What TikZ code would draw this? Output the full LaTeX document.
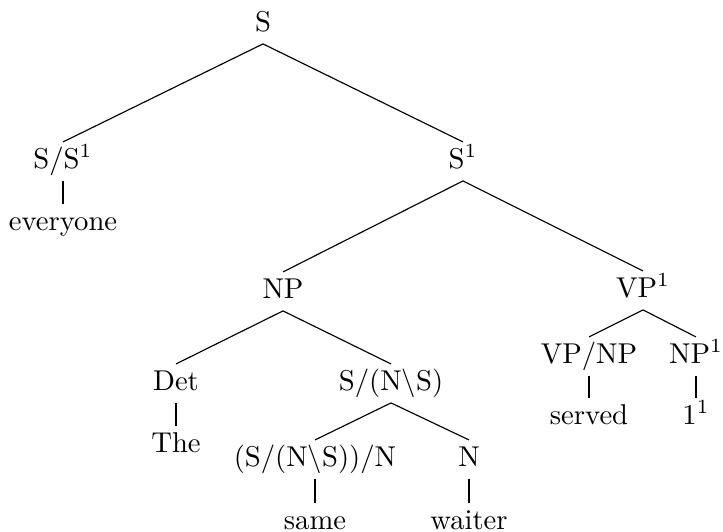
\documentclass[tikz,border=0pt]{standalone}
\begin{document}
\begin{tikzpicture}[x=0.349pt,y=-0.349pt,
  cat/.style={anchor=base, inner xsep=0pt, inner ysep=1.4pt,
              text height=7.5pt, text depth=2.9pt},
  branch/.style={line width=0.4pt}]
\useasboundingbox (0,0) rectangle (723,531);

% categories and words
\node[cat] (s)      at (263,31)  {S};
\node[cat] (ss1)    at (63,168)  {S/S$^1$};
\node[cat] (every)  at (63,230)  {everyone};
\node[cat] (s1)     at (463,168) {S$^1$};
\node[cat] (np)     at (283,298) {NP};
\node[cat] (vp1)    at (643,297) {VP$^1$};
\node[cat] (det)    at (176,390) {Det};
\node[cat] (the)    at (176,452) {The};
\node[cat] (sns)    at (391,390) {S/(N$\backslash$S)};
\node[cat] (snsn)   at (315,466) {(S/(N$\backslash$S))/N};
\node[cat] (n)      at (469,466) {N};
\node[cat] (same)   at (315,529) {same};
\node[cat] (waiter) at (469,529) {waiter};
\node[cat] (vpnp)   at (589,363) {VP/NP};
\node[cat] (np1)    at (696,363) {NP$^1$};
\node[cat] (served) at (589,424) {served};
\node[cat] (one)    at (696,424) {1$^1$};

% branches
\draw[branch] (s.south) -- (ss1.north);
\draw[branch] (s.south) -- (s1.north);
\draw[branch] (ss1.south) -- (every.north);
\draw[branch] (s1.south) -- (np.north);
\draw[branch] (s1.south) -- (vp1.north);
\draw[branch] (np.south) -- (det.north);
\draw[branch] (np.south) -- (sns.north);
\draw[branch] (det.south) -- (the.north);
\draw[branch] (sns.south) -- (snsn.north);
\draw[branch] (sns.south) -- (n.north);
\draw[branch] (snsn.south) -- (same.north);
\draw[branch] (n.south) -- (waiter.north);
\draw[branch] (vp1.south) -- (vpnp.north);
\draw[branch] (vp1.south) -- (np1.north);
\draw[branch] (vpnp.south) -- (served.north);
\draw[branch] (np1.south) -- (one.north);
\end{tikzpicture}
\end{document}
